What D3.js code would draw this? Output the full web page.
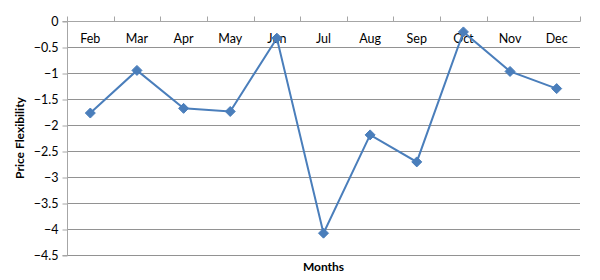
<!DOCTYPE html>
<html>
<head>
<meta charset="utf-8">
<script src="https://cdn.jsdelivr.net/npm/d3@7"></script>
<style>
  body { margin: 0; background: #fff; }
  svg { display: block; font-family: Lato, "Open Sans", sans-serif; }
</style>
</head>
<body>
<div class="chart"></div>
<script>
// Values
var months = ["Feb", "Mar", "Apr", "May", "Jun", "Jul", "Aug", "Sep", "Oct", "Nov", "Dec"];
var flexibility = [-1.77, -0.95, -1.68, -1.74, -0.33, -4.08, -2.19, -2.71, -0.21, -0.97, -1.30];
var yTicks = [0, -0.5, -1, -1.5, -2, -2.5, -3, -3.5, -4, -4.5];

var width = 600;
var height = 280;
var margin = ({ top: 21, right: 20, bottom: 25, left: 67 });

var data = months.map((m, i) => ({ month: m, value: flexibility[i] }));

const svg = d3.select("div.chart")
    .append("svg")
    .attr("width", width)
    .attr("height", height);

// Scales
var x = d3.scaleBand()
    .domain(months)
    .range([margin.left, width - margin.right]);
var y = d3.scaleLinear()
    .domain([0, -4.5])
    .range([margin.top, height - margin.bottom]);

// Horizontal grid lines
svg.append("g")
    .selectAll("line")
    .data(yTicks.slice(1))
    .join("line")
        .attr("x1", margin.left)
        .attr("x2", width - margin.right)
        .attr("y1", d => Math.round(y(d)) + 0.5)
        .attr("y2", d => Math.round(y(d)) + 0.5)
        .attr("stroke", "#929292")
        .attr("stroke-width", 1);

// Y axis (left)
var yAxis = g => g
    .attr("transform", `translate(${margin.left + 0.5},0.5)`)
    .call(d3.axisLeft(y).tickValues(yTicks).tickSize(5).tickPadding(4).tickFormat(d => d === 0 ? "0" : d3.format("")(d)))
    .call(g => g.selectAll("line, .domain").attr("stroke", "#a6a6a6"))
    .call(g => g.select(".domain").attr("d", `M-5,${y(0)}H0V${y(-4.5)}H-5`))
    .call(g => g.selectAll(".tick text")
        .attr("fill", "#000")
        .style("font-size", "12.5px")
        .style("font-family", "Lato, sans-serif"));
svg.append("g").call(yAxis);

// X axis along the top (value 0), labels below the line
var xTickPos = months.map(m => x(m)).concat([width - margin.right]);
var xAxisG = svg.append("g").attr("transform", "translate(0.5,0.5)");
xAxisG.append("line")
    .attr("x1", margin.left)
    .attr("x2", width - margin.right)
    .attr("y1", y(0))
    .attr("y2", y(0))
    .attr("stroke", "#a6a6a6");
xAxisG.selectAll("line.tick")
    .data(xTickPos)
    .join("line")
        .attr("class", "tick")
        .attr("x1", d => Math.round(d))
        .attr("x2", d => Math.round(d))
        .attr("y1", y(0))
        .attr("y2", y(0) - 5)
        .attr("stroke", "#a6a6a6");
svg.append("g")
    .selectAll("text")
    .data(months)
    .join("text")
        .attr("x", d => x(d) + x.bandwidth() / 2)
        .attr("y", y(0) + 22)
        .attr("text-anchor", "middle")
        .style("font-size", "12.5px")
        .text(d => d);

// Series line
var line = d3.line()
    .x(d => x(d.month) + x.bandwidth() / 2)
    .y(d => y(d.value));
svg.append("path")
    .datum(data)
    .attr("fill", "none")
    .attr("stroke", "#4a7ebb")
    .attr("stroke-width", 2)
    .attr("d", line);

// Diamond markers
svg.append("g")
    .selectAll("path")
    .data(data)
    .join("path")
        .attr("transform", d => `translate(${x(d.month) + x.bandwidth() / 2},${y(d.value)})`)
        .attr("d", "M0,-5L5,0L0,5L-5,0Z")
        .attr("fill", "#4a7ebb")
        .attr("stroke", "#4a7ebb")
        .attr("stroke-width", 1);

// Axis titles
svg.append("text")
    .attr("x", (margin.left + width - margin.right) / 2)
    .attr("y", 271)
    .attr("text-anchor", "middle")
    .style("font-size", "12px")
    .style("font-weight", "bold")
    .text("Months");
svg.append("text")
    .attr("transform", `translate(24,${(y(0) + y(-4.5)) / 2}) rotate(-90)`)
    .attr("text-anchor", "middle")
    .style("font-size", "12px")
    .style("font-weight", "bold")
    .text("Price Flexibility");
</script>
</body>
</html>
